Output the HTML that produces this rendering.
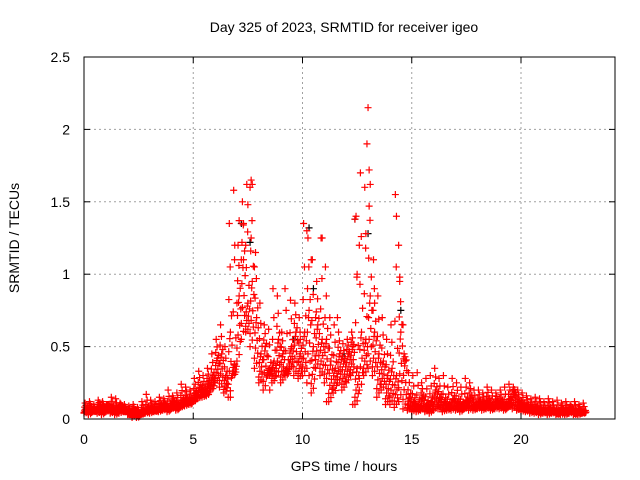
<!DOCTYPE html>
<html><head><meta charset="utf-8"><style>
body{margin:0;background:#fff}
svg{display:block;font-family:"Liberation Sans",sans-serif}
</style></head><body>
<svg id="chart" width="640" height="480" viewBox="0 0 640 480">
<rect width="640" height="480" fill="#fff"/>
<text x="344" y="32" text-anchor="middle" font-size="14">Day 325 of 2023, SRMTID for receiver igeo</text>
<text x="344" y="471" text-anchor="middle" font-size="14">GPS time / hours</text>
<text x="0" y="0" transform="translate(19,238) rotate(-90)" text-anchor="middle" font-size="14">SRMTID / TECUs</text>
<g id="grid"></g><g id="marks"></g><g id="axes"></g>
</svg>
<script>
const xTicks=[0,5,10,15,20];
const yTicks=[0,0.5,1,1.5,2,2.5];
const yTickLabels=["0","0.5","1","1.5","2","2.5"];
const times=[0,0.2,0.4,0.6,0.8,1.0,1.2,1.4,1.6,1.8,2.0,2.2,2.4,2.6,2.8,3.0,3.2,3.4,3.6,3.8,4.0,4.2,4.4,4.6,4.8,5.0,5.2,5.4,5.6,5.8,6.0,6.2,6.4,6.6,6.8,7.0,7.2,7.4,7.6,7.8,8.0,8.2,8.4,8.6,8.8,9.0,9.2,9.4,9.6,9.8,10.0,10.2,10.4,10.6,10.8,11.0,11.2,11.4,11.6,11.8,12.0,12.2,12.4,12.6,12.8,13.0,13.2,13.4,13.6,13.8,14.0,14.2,14.4,14.6,14.8,15.0,15.2,15.4,15.6,15.8,16.0,16.2,16.4,16.6,16.8,17.0,17.2,17.4,17.6,17.8,18.0,18.2,18.4,18.6,18.8,19.0,19.2,19.4,19.6,19.8,20.0,20.2,20.4,20.6,20.8,21.0,21.2,21.4,21.6,21.8,22.0,22.2,22.4,22.6,22.8];
const loVals=[.04,.03,.05,.04,.03,.05,.04,.03,.04,.05,.03,.02,.01,.03,.04,.04,.05,.05,.06,.05,.07,.06,.08,.09,.1,.12,.14,.15,.16,.2,.25,.22,.18,.15,.3,.4,.55,.6,.5,.35,.25,.2,.3,.25,.3,.25,.3,.35,.3,.28,.3,.25,.18,.35,.3,.25,.12,.18,.25,.2,.25,.3,.1,.2,.3,.35,.3,.15,.2,.1,.1,.08,.12,.07,.06,.05,.05,.06,.05,.04,.06,.07,.05,.06,.06,.06,.05,.07,.06,.06,.07,.06,.07,.06,.07,.07,.06,.08,.07,.06,.05,.05,.04,.04,.03,.04,.03,.04,.03,.03,.03,.04,.03,.03,.04];
const midVals=[.07,.08,.06,.09,.08,.1,.08,.07,.09,.06,.05,.06,.04,.06,.07,.08,.07,.09,.1,.09,.12,.1,.13,.14,.13,.18,.22,.2,.25,.3,.42,.45,.3,.6,.38,.85,1.1,.8,.95,.7,.45,.5,.35,.4,.55,.45,.35,.5,.6,.45,.6,.75,.5,.65,.55,.55,.4,.35,.45,.4,.45,.5,.35,.6,.55,.85,.6,.45,.4,.3,.35,.3,.6,.4,.15,.12,.1,.15,.1,.12,.2,.15,.12,.1,.14,.12,.1,.13,.15,.1,.12,.11,.13,.1,.12,.12,.1,.14,.18,.12,.1,.09,.08,.08,.07,.06,.07,.06,.05,.07,.06,.07,.05,.06,.05];
const hiVals=[.11,.12,.1,.13,.12,.1,.15,.14,.11,.1,.09,.1,.08,.12,.17,.13,.12,.15,.14,.2,.16,.18,.24,.22,.2,.28,.33,.3,.35,.45,.55,.65,.5,1.35,1.58,1.2,1.5,1.62,1.65,1.15,.8,.65,.62,.9,.85,.6,.75,.82,.8,.7,1.35,1.25,1.1,.95,1.25,1.05,.7,.65,.6,.52,.55,.6,1.4,1.7,1.6,1.72,1.1,.85,.7,.55,.65,1.55,.95,.45,.32,.3,.32,.25,.28,.3,.35,.28,.3,.22,.28,.25,.22,.28,.25,.2,.2,.18,.22,.2,.18,.2,.22,.24,.22,.2,.18,.16,.14,.15,.14,.12,.14,.12,.13,.11,.12,.1,.12,.1,.11];
const extraTimes=[7.1,7.3,7.5,7.6,7.7,7.2,6.9,7.4,7.8,10.2,10.4,10.9,12.4,12.6,12.9,13.0,12.95,13.05,13.1,14.3,14.4,14.45,12.3,11.1,8.5,6.7,2.2,9.2,9.9,11.6,7.0,7.65,10.6,12.5,13.3,14.6];
const extraVals=[1.37,1.35,1.48,1.6,1.62,1.1,1.2,1.2,1.05,1.3,1.1,1.25,1.38,1.2,1.28,2.15,1.9,1.47,1.62,1.4,1.2,0.98,0.1,0.12,0.2,0.15,0.01,0.9,0.55,0.7,0.8,1.25,0.7,1.0,0.8,0.65];
const blackTimes=[7.2,7.6,10.3,10.5,12.4,13.0,14.5,9.6,11.9];
const blackVals=[1.35,1.22,1.32,0.9,1.38,1.28,0.75,0.55,0.45];

const L=84,R=615,T=57,B=419;
const xs=t=>L+t*21.85;
const ys=v=>B-v*(B-T)/2.5;
const NS="http://www.w3.org/2000/svg";
function mk(tag,attrs,parent){const e=document.createElementNS(NS,tag);for(const k in attrs)e.setAttribute(k,attrs[k]);parent.appendChild(e);return e;}
const grid=document.getElementById('grid'),marks=document.getElementById('marks'),axes=document.getElementById('axes');
yTicks.forEach((v,i)=>{
  const y=ys(v);
  if(v>0&&v<2.5){const g=mk('line',{x1:L,x2:R,y1:y,y2:y,stroke:'#a0a0a0','stroke-dasharray':'2,3'},grid);
  
  }
  mk('line',{x1:L,x2:L+6,y1:y,y2:y,stroke:'#000'},axes);
  mk('line',{x1:R,x2:R-6,y1:y,y2:y,stroke:'#000'},axes);
  const t=mk('text',{x:70,y:y+5,'text-anchor':'end','font-size':14},axes);t.textContent=yTickLabels[i];
  
  
});
xTicks.forEach(v=>{
  const x=xs(v);
  if(v>0){const g=mk('line',{x1:x,x2:x,y1:T,y2:B,stroke:'#a0a0a0','stroke-dasharray':'2,3'},grid);
  
  }
  mk('line',{x1:x,x2:x,y1:B,y2:B-6,stroke:'#000'},axes);
  mk('line',{x1:x,x2:x,y1:T,y2:T+6,stroke:'#000'},axes);
  const t=mk('text',{x:x,y:444,'text-anchor':'middle','font-size':14},axes);t.textContent=String(v);
  
  
});
const frame=mk('rect',{x:L,y:T,width:R-L,height:B-T,fill:'none',stroke:'#000'},axes);


function cross(t,v,color){
  const x=xs(t),y=ys(v);
  const p=mk('path',{d:`M${x-3.5},${y}h7M${x},${y-3.5}v7`,stroke:color,'stroke-width':1.2,fill:'none'},marks);
  
  
}
const fracLoMid=[0.2,0.7,0.4,0.9,0.1,0.55,0.3,0.8];
const fracMidHi=[0.3,0.6,0.15];
blackTimes.forEach((t,i)=>cross(t,blackVals[i],'#000'));
times.forEach((t,i)=>{
  cross(t,loVals[i],'#f00');cross(t+0.1,midVals[i],'#f00');cross(t+0.05,hiVals[i],'#f00');
  fracLoMid.forEach((f,j)=>cross(t+0.025*j,loVals[i]+(midVals[i]-loVals[i])*f,'#f00'));
  fracMidHi.forEach((f,j)=>cross(t+0.06*j+0.03,midVals[i]+(hiVals[i]-midVals[i])*f,'#f00'));
});
extraTimes.forEach((t,i)=>cross(t,extraVals[i],'#f00'));
</script>
</body></html>
